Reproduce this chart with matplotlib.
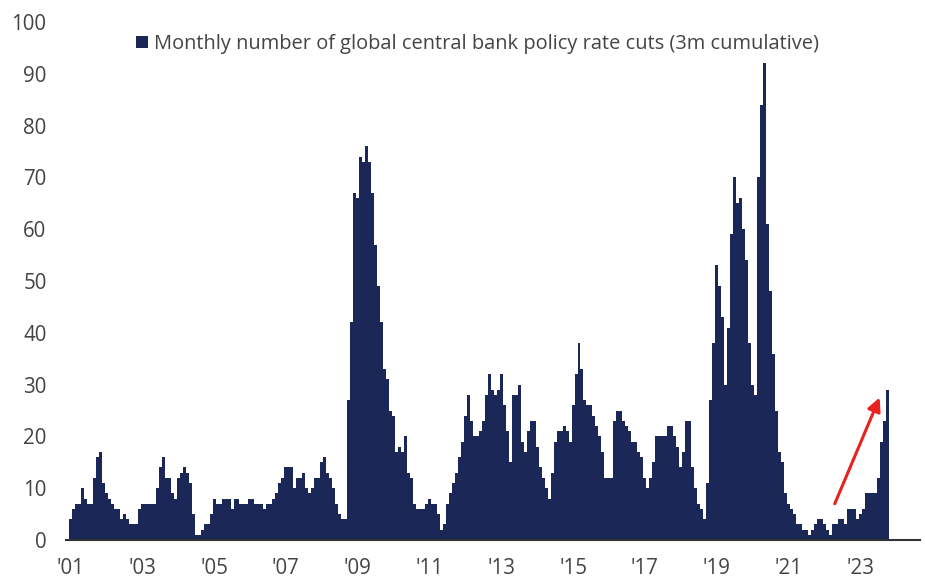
import numpy as np
import matplotlib
matplotlib.use("Agg")
import matplotlib.pyplot as plt

plt.rcParams['font.family'] = ['Open Sans', 'DejaVu Sans']

# monthly values, Jan 2001 .. Oct 2023
cuts_2001 = [4, 6, 7, 7, 10, 8, 7, 7, 12, 16, 17, 11]
cuts_2002 = [9, 8, 7, 6, 6, 4, 5, 4, 3, 3, 3, 6]
cuts_2003 = [7, 7, 7, 7, 7, 10, 14, 16, 12, 12, 9, 8]
cuts_2004 = [12, 13, 14, 13, 11, 5, 1, 1, 2, 3, 3, 5]
cuts_2005 = [8, 7, 7, 8, 8, 8, 6, 8, 8, 7, 7, 7]
cuts_2006 = [8, 8, 7, 7, 7, 6, 7, 7, 8, 9, 11, 12]
cuts_2007 = [14, 14, 14, 10, 12, 12, 13, 10, 9, 10, 12, 12]
cuts_2008 = [15, 16, 13, 12, 10, 7, 5, 4, 4, 27, 42, 67]
cuts_2009 = [66, 74, 73, 76, 73, 67, 57, 49, 42, 33, 31, 25]
cuts_2010 = [24, 17, 18, 17, 20, 13, 12, 7, 6, 6, 6, 7]
cuts_2011 = [8, 7, 7, 5, 2, 3, 7, 9, 11, 13, 16, 19]
cuts_2012 = [24, 28, 23, 20, 20, 21, 23, 28, 32, 29, 28, 29]
cuts_2013 = [32, 26, 21, 15, 28, 28, 30, 19, 17, 21, 23, 23]
cuts_2014 = [18, 14, 12, 10, 8, 13, 19, 21, 21, 22, 21, 19]
cuts_2015 = [26, 32, 38, 33, 27, 26, 26, 24, 22, 20, 17, 12]
cuts_2016 = [12, 12, 23, 25, 25, 23, 22, 21, 19, 19, 17, 16]
cuts_2017 = [12, 10, 12, 15, 20, 20, 20, 20, 22, 22, 20, 18]
cuts_2018 = [14, 17, 23, 23, 14, 10, 7, 6, 4, 11, 27, 38]
cuts_2019 = [53, 49, 43, 30, 41, 59, 70, 65, 66, 60, 54, 38]
cuts_2020 = [30, 28, 70, 84, 92, 61, 48, 36, 25, 17, 15, 9]
cuts_2021 = [7, 6, 5, 3, 3, 2, 2, 1, 2, 3, 4, 4]
cuts_2022 = [3, 2, 1, 3, 3, 4, 4, 3, 6, 6, 6, 4]
cuts_2023 = [5, 6, 9, 9, 9, 9, 12, 19, 23, 29]

cuts = (cuts_2001 + cuts_2002 + cuts_2003 + cuts_2004 + cuts_2005 + cuts_2006
        + cuts_2007 + cuts_2008 + cuts_2009 + cuts_2010 + cuts_2011 + cuts_2012
        + cuts_2013 + cuts_2014 + cuts_2015 + cuts_2016 + cuts_2017 + cuts_2018
        + cuts_2019 + cuts_2020 + cuts_2021 + cuts_2022 + cuts_2023)

tick_labels = ["'01", "'03", "'05", "'07", "'09", "'11", "'13", "'15",
               "'17", "'19", "'21", "'23"]

navy = '#1b2857'
grey = '#444444'

fig = plt.figure(figsize=(9.25, 5.78), dpi=100)
ax = fig.add_axes([66 / 925, 38 / 578, 854 / 925, 518 / 578])

months = np.arange(len(cuts))
ax.bar(months, cuts, width=1.0, color=navy, linewidth=0,
       label='Monthly number of global central bank policy rate cuts (3m cumulative)')

# red arrow over the latest upswing
ax.annotate('', xy=(270.5, 27.5), xytext=(255.5, 7),
            arrowprops=dict(arrowstyle='-|>', color='#e8231f', lw=2.2,
                            mutation_scale=20, shrinkA=0, shrinkB=0))

ax.set_xlim(-1.5, 284)
ax.set_ylim(0, 100)
ax.set_yticks(np.arange(0, 101, 10))
ax.set_xticks(np.arange(0, len(tick_labels) * 24, 24))
ax.set_xticklabels(tick_labels)
ax.tick_params(axis='both', length=0, labelsize=14.8, labelcolor=grey)
ax.tick_params(axis='y', pad=14)
ax.tick_params(axis='x', pad=13)

for side in ['left', 'right', 'top']:
    ax.spines[side].set_visible(False)
ax.spines['bottom'].set_color('#333333')
ax.spines['bottom'].set_linewidth(1.5)

ax.legend(loc='center left', bbox_to_anchor=(136 / 925, 1 - 44 / 578),
          bbox_transform=fig.transFigure, frameon=False, fontsize=14.4,
          handlelength=0.6, handleheight=0.6, handletextpad=0.3,
          borderpad=0, borderaxespad=0, labelcolor=grey)

fig.savefig('out.png', dpi=100)
